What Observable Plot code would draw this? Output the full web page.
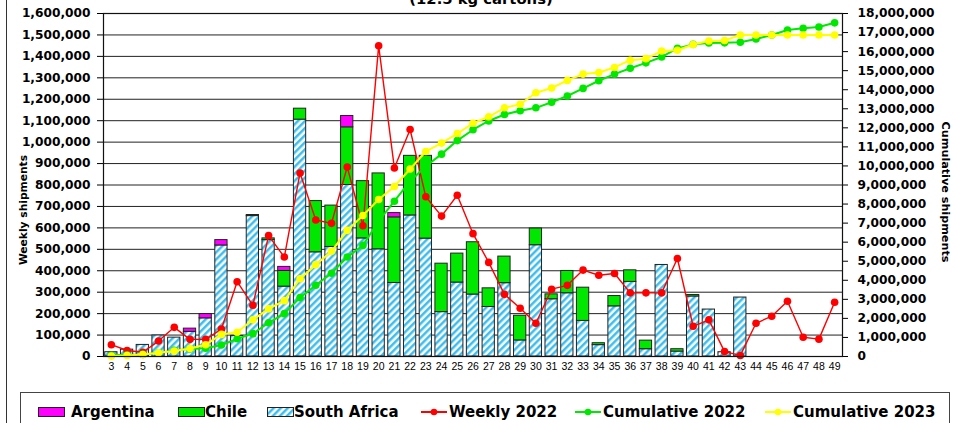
<!DOCTYPE html>
<html><head><meta charset="utf-8">
<script src="https://cdn.jsdelivr.net/npm/d3@7"></script>
<script src="https://cdn.jsdelivr.net/npm/@observablehq/plot@0.6"></script>
<style>
body{margin:0;background:#fff;}
#wrap{position:relative;width:955px;height:423px;overflow:hidden;background:#fff;}
#chart{position:absolute;left:0;top:0;}
#legend{position:absolute;left:0;top:383px;}
</style></head>
<body><div id="wrap"><div id="chart"></div><svg id="legend" width="955" height="40"></svg></div>
<script>
const weeks = [3,4,5,6,7,8,9,10,11,12,13,14,15,16,17,18,19,20,21,22,23,24,25,26,27,28,29,30,31,32,33,34,35,36,37,38,39,40,41,42,43,44,45,46,47,48,49];
const southAfrica = [20000,32000,54000,98000,88000,115000,178000,518000,96000,655000,543000,326000,1105000,486000,511000,800000,551000,500000,343000,658000,550000,207000,345000,289000,231000,342000,75000,519000,267000,295000,166000,53000,234000,348000,34000,427000,23000,280000,219000,20000,275000,0,0,0,0,0,0];
const chile = [0,0,0,0,0,0,0,0,0,5000,8000,73000,51000,239000,193000,269000,267000,354000,306000,278000,386000,226000,135000,244000,87000,124000,115000,78000,23000,104000,155000,9000,48000,54000,40000,0,11000,7000,0,0,0,0,0,0,0,0,0];
const argentina = [0,0,0,0,0,15000,20000,25000,0,0,0,19000,0,0,0,53000,0,0,20000,0,0,0,0,0,0,0,0,0,0,0,0,0,0,0,0,0,0,0,0,0,0,0,0,0,0,0,0];
const weekly2022 = [55000,28000,20000,72000,136000,80000,80000,128000,349000,239000,564000,464000,856000,637000,621000,884000,610000,1449000,879000,1059000,745000,655000,752000,573000,439000,290000,225000,155000,314000,332000,403000,379000,387000,297000,297000,297000,457000,141000,171000,23000,5000,155000,188000,258000,90000,81000,253000];
const cumulative2022 = [60000,90000,110000,190000,320000,400000,430000,600000,930000,1200000,1770000,2250000,3090000,3740000,4370000,5220000,5830000,7100000,8150000,9200000,9980000,10620000,11330000,11900000,12360000,12700000,12900000,13050000,13340000,13670000,14070000,14470000,14820000,15130000,15410000,15720000,16170000,16380000,16450000,16460000,16490000,16660000,16870000,17130000,17220000,17290000,17510000];
const cumulative2023 = [20000,50000,100000,200000,290000,420000,620000,1160000,1270000,1930000,2500000,2930000,4080000,4820000,5520000,6620000,7400000,8240000,8920000,9840000,10760000,11200000,11700000,12240000,12580000,13050000,13240000,13840000,14090000,14490000,14820000,14900000,15170000,15550000,15630000,16030000,16070000,16370000,16560000,16580000,16870000,16870000,16870000,16870000,16870000,16870000,16870000];
const leftTicks = [0,100000,200000,300000,400000,500000,600000,700000,800000,900000,1000000,1100000,1200000,1300000,1400000,1500000,1600000];
const rightTicks = [0,1000000,2000000,3000000,4000000,5000000,6000000,7000000,8000000,9000000,10000000,11000000,12000000,13000000,14000000,15000000,16000000,17000000,18000000];
const countries = ["South Africa","Chile","Argentina"];

const LEFT_MAX = 1600000, RIGHT_MAX = 18000000, R = LEFT_MAX / RIGHT_MAX;
const GREEN = "#00e800", MAGENTA = "#ff00ff", RED = "#ff0000", YELLOW = "#ffff00", BLUE = "#33bbee";
const BOLD = "DejaVu Sans";

const barRows = [];
weeks.forEach((w,i) => {
  [[countries[0], southAfrica[i]],[countries[1], chile[i]],[countries[2], argentina[i]]].forEach(([c,v]) => {
    if (v > 0) barRows.push({week: w, country: c, value: v});
  });
});
const wk = weeks.map((w,i) => ({week: w, v: weekly2022[i]}));
const c22 = weeks.map((w,i) => ({week: w, v: cumulative2022[i] * R}));
const c23 = weeks.map((w,i) => ({week: w, v: cumulative2023[i] * R}));
const fmt = d3.format(",");

const plot = Plot.plot({
  width: 955, height: 392,
  marginLeft: 103, marginRight: 113, marginTop: 13, marginBottom: 36,
  style: {background: "white", color: "#000"},
  x: {type: "band", domain: weeks, paddingInner: 0.22, paddingOuter: 0.11},
  y: {domain: [0, LEFT_MAX]},
  color: {type: "ordinal", domain: countries, range: ["url(#hatch)", GREEN, MAGENTA]},
  marks: [
    Plot.gridY(leftTicks, {stroke: "#222", strokeOpacity: 1, strokeWidth: 1}),
    Plot.barY(barRows, {x: "week", y: "value", fill: "country", stroke: "#222", strokeWidth: 1}),
    Plot.line(wk, {x: "week", y: "v", stroke: RED, strokeWidth: 1.4}),
    Plot.dot(wk, {x: "week", y: "v", fill: RED, r: 3.8}),
    Plot.line(c22, {x: "week", y: "v", stroke: GREEN, strokeWidth: 2}),
    Plot.dot(c22, {x: "week", y: "v", fill: GREEN, r: 3.8}),
    Plot.line(c23, {x: "week", y: "v", stroke: YELLOW, strokeWidth: 2}),
    Plot.dot(c23, {x: "week", y: "v", fill: YELLOW, r: 3.8}),
    Plot.frame({stroke: "#111", strokeWidth: 1.2}),
    Plot.axisY(leftTicks, {anchor: "left", tickFormat: fmt, tickSize: 6, tickPadding: 7, label: null,
      fontFamily: BOLD, fontWeight: "bold", fontSize: 12.2}),
    Plot.axisY(rightTicks.map(d => d * R), {anchor: "right", tickFormat: d => fmt(Math.round(d / R / 1e6) * 1e6),
      tickSize: 5, tickPadding: 10, label: null, fontFamily: BOLD, fontWeight: "bold", fontSize: 12.2}),
    Plot.axisX({tickSize: 0, tickPadding: 6, label: null, fontFamily: "Liberation Sans", fontSize: 10.5})
  ]
});
document.getElementById("chart").appendChild(plot);

const svg = d3.select(plot);
const defs = svg.insert("defs", ":first-child");
const pat = defs.append("pattern").attr("id", "hatch").attr("patternUnits", "userSpaceOnUse")
  .attr("width", 5).attr("height", 5).attr("patternTransform", "rotate(45)");
pat.append("rect").attr("width", 5).attr("height", 5).attr("fill", "#fff");
pat.append("line").attr("x1", 1.3).attr("y1", 0).attr("x2", 1.3).attr("y2", 5).attr("stroke", BLUE).attr("stroke-width", 2.4);

svg.append("text").attr("x", 481).attr("y", 4).attr("text-anchor", "middle")
  .attr("font-family", BOLD).attr("font-weight", "bold").attr("font-size", 14.8).text("(12.5 kg cartons)");
svg.append("text").attr("transform", "translate(27,210) rotate(-90)").attr("text-anchor", "middle")
  .attr("font-family", BOLD).attr("font-weight", "bold").attr("font-size", 10.7).text("Weekly shipments");
svg.append("text").attr("transform", "translate(942,192) rotate(90)").attr("text-anchor", "middle")
  .attr("font-family", BOLD).attr("font-weight", "bold").attr("font-size", 11.2).text("Cumulative shipments");
svg.append("line").attr("x1", 6.5).attr("x2", 6.5).attr("y1", 0).attr("y2", 392).attr("stroke", "#333").attr("stroke-width", 1);

// legend
const lg = d3.select("#legend");
const ldefs = lg.append("defs");
const lp = ldefs.append("pattern").attr("id", "hatch2").attr("patternUnits", "userSpaceOnUse")
  .attr("width", 5).attr("height", 5).attr("patternTransform", "rotate(45)");
lp.append("rect").attr("width", 5).attr("height", 5).attr("fill", "#fff");
lp.append("line").attr("x1", 1.3).attr("y1", 0).attr("x2", 1.3).attr("y2", 5).attr("stroke", BLUE).attr("stroke-width", 2.4);
lg.append("line").attr("x1", 6.5).attr("x2", 6.5).attr("y1", 0).attr("y2", 40).attr("stroke", "#333");
lg.append("rect").attr("x", 20.5).attr("y", 9.5).attr("width", 929).attr("height", 60).attr("fill", "none").attr("stroke", "#444");
const cy = 29;
const swatches = [
  {x: 38, fill: MAGENTA, label: "Argentina", tx: 71},
  {x: 178, fill: GREEN, label: "Chile", tx: 205},
  {x: 267, fill: "url(#hatch2)", label: "South Africa", tx: 294}
];
swatches.forEach(s => {
  lg.append("rect").attr("x", s.x + 0.5).attr("y", cy - 4.5).attr("width", 26).attr("height", 9)
    .attr("fill", s.fill).attr("stroke", "#222");
  lg.append("text").attr("x", s.tx).attr("y", cy).attr("dy", "0.36em").attr("font-family", BOLD)
    .attr("font-weight", "bold").attr("font-size", 15).text(s.label);
});
const lines = [
  {x: 421, color: RED, label: "Weekly 2022", tx: 449},
  {x: 575, color: GREEN, label: "Cumulative 2022", tx: 603},
  {x: 765, color: YELLOW, label: "Cumulative 2023", tx: 793}
];
lines.forEach(s => {
  lg.append("line").attr("x1", s.x).attr("x2", s.x + 26).attr("y1", cy).attr("y2", cy).attr("stroke", s.color).attr("stroke-width", 2);
  lg.append("circle").attr("cx", s.x + 13).attr("cy", cy).attr("r", 3.3).attr("fill", s.color);
  lg.append("text").attr("x", s.tx).attr("y", cy).attr("dy", "0.36em").attr("font-family", BOLD)
    .attr("font-weight", "bold").attr("font-size", 15).text(s.label);
});
</script></body></html>
